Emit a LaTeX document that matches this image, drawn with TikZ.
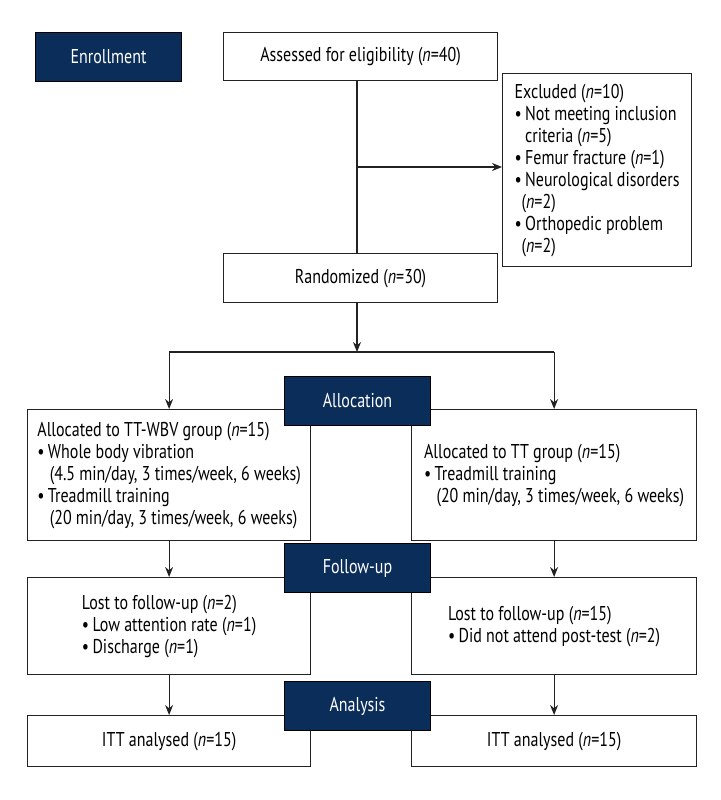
\documentclass[tikz,border=0pt]{standalone}
\usepackage{fontspec}
\setmainfont[FakeStretch=0.8]{PT Sans}
\usetikzlibrary{arrows.meta}
\definecolor{navy}{HTML}{0A2D5A}
\definecolor{lineclr}{HTML}{222222}
\newcommand{\nn}{\textit{n}}
\newcommand{\bul}{•\,}
\newcommand{\ind}{\hspace*{0.62em}}
\tikzset{
  box/.style={draw=lineclr, line width=1.2pt, fill=white, inner sep=0pt, align=left,
    anchor=north west, font=\fontsize{20}{22}\selectfont},
  hdr/.style={draw=black, line width=1pt, fill=navy, text=white, inner sep=0pt,
    anchor=north west, minimum width=146pt, minimum height=49pt, font=\fontsize{20}{22}\selectfont},
  arr/.style={draw=lineclr, line width=1.2pt, -{Stealth[length=10pt,width=8pt]}},
  ln/.style={draw=lineclr, line width=1.2pt}
}
\begin{document}
\begin{tikzpicture}[x=1pt,y=-1pt]
\useasboundingbox[fill=white] (0,0) rectangle (720,800);
% white boxes
\node[box, minimum width=274pt, minimum height=48pt] (assess) at (223,32) {Assessed for eligibility (\nn=40)};
\node[box, minimum width=189pt, minimum height=193pt] (excl) at (502,73) {Excluded (\nn=10)\\
\bul Not meeting inclusion\\
\phantom{\bul}criteria (\nn=5)\\
\bul Femur fracture (\nn=1)\\
\bul Neurological disorders\\
\hspace*{0.35em}(\nn=2)\\
\bul Orthopedic problem\\
\hspace*{0.35em}(\nn=2)};
\node[box, minimum width=274pt, minimum height=49pt] (rand) at (223,253) {Randomized (\nn=30)};
\node[box, minimum width=283pt, minimum height=131pt] (allocL) at (27,409) {Allocated to TT-WBV group (\nn=15)\\
\bul Whole body vibration\\
\ind(4.5 min/day, 3 times/week, 6 weeks)\\
\bul Treadmill training\\
\ind(20 min/day, 3 times/week, 6 weeks)};
\node[box, minimum width=285pt, minimum height=131pt] (allocR) at (411,409) {Allocated to TT group (\nn=15)\\
\bul Treadmill training\\
\ind(20 min/day, 3 times/week, 6 weeks)};
\node[box, minimum width=283pt, minimum height=97pt] (lostL) at (27,577) {Lost to follow-up (\nn=2)\\
\bul Low attention rate (\nn=1)\\
\bul Discharge (\nn=1)};
\node[box, minimum width=285pt, minimum height=97pt] (lostR) at (411,577) {Lost to follow-up (\nn=15)\\
\bul Did not attend post-test (\nn=2)};
\node[box, minimum width=283pt, minimum height=51pt] (ittL) at (27,715) {ITT analysed (\nn=15)};
\node[box, minimum width=285pt, minimum height=51pt] (ittR) at (411,715) {ITT analysed (\nn=15)};
% header boxes
\node[hdr] (enr) at (35,32) {Enrollment};
\node[hdr] (allochdr) at (284,376) {Allocation};
\node[hdr] (fuhdr) at (284,543) {Follow-up};
\node[hdr] (anhdr) at (284,681) {Analysis};
% connectors
\coordinate (vx) at (357,0);
\coordinate (br) at (357,167);
\coordinate (split) at (357,352);
\draw[ln] (assess.south -| vx) -- (rand.north -| vx);
\draw[arr] (br) -- (br -| excl.west);
\draw[arr] (rand.south -| vx) -- (split);
\draw[ln] (allocL.north |- split) -- (allocR.north |- split);
\draw[arr] (allocL.north |- split) -- (allocL.north);
\draw[arr] (allocR.north |- split) -- (allocR.north);
\draw[arr] (allocL.south) -- (lostL.north);
\draw[arr] (allocR.south) -- (lostR.north);
\draw[arr] (lostL.south) -- (ittL.north);
\draw[arr] (lostR.south) -- (ittR.north);
\end{tikzpicture}
\end{document}
